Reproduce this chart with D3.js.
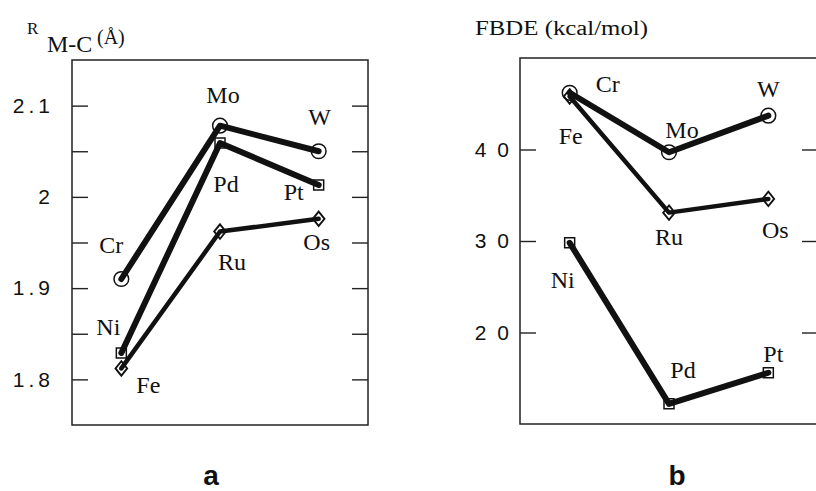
<!DOCTYPE html>
<html>
<head>
<meta charset="utf-8">
<script src="https://cdn.jsdelivr.net/npm/d3@7"></script>
<style>
  html, body { margin:0; padding:0; background:#fff; }
  svg { display:block; }
  .lbl  { font-family:"Liberation Serif","Times New Roman",serif; font-size:24px; fill:#111; }
  .tick text { font-family:"Liberation Sans",Arial,sans-serif; fill:#111; }
  .tick line { stroke:#222; stroke-width:1.4; }
</style>
</head>
<body>
<svg id="chart" width="816" height="491"></svg>
<script>
/* ── data ── */
const periods = ['3d', '4d', '5d'];

const metalsCircle  = ['Cr', 'Mo', 'W'];
const metalsSquare  = ['Ni', 'Pd', 'Pt'];
const metalsDiamond = ['Fe', 'Ru', 'Os'];

// panel a: M–C distance (Å)
const rmcCircle  = [1.910, 2.078, 2.050];
const rmcSquare  = [1.829, 2.059, 2.013];
const rmcDiamond = [1.812, 1.962, 1.976];

// panel b: FBDE (kcal/mol)
const fbdeCircle  = [46.2, 39.7, 43.7];
const fbdeSquare  = [29.8, 12.2, 15.6];
const fbdeDiamond = [45.8, 33.1, 34.6];

const rmcTicks      = [1.8, 1.85, 1.9, 1.95, 2.0, 2.05, 2.1];
const rmcTickLabels = ['1.8', '', '1.9', '', '2', '', '2.1'];
const fbdeTicks      = [20, 30, 40];
const fbdeTickLabels = ['20', '30', '40'];

/* ── label nudges (px from the point) ── */
const offsA = {
  Cr:[-10,-26], Mo:[3,-23],  W:[1,-26],
  Ni:[-13,-18], Pd:[6,49],   Pt:[-25,15],
  Fe:[27,25],   Ru:[12,38],  Os:[-2,31]
};
const offsB = {
  Cr:[38,-1],   Mo:[13,-14], W:[0,-19],
  Fe:[1,48],    Ru:[0,32],   Os:[7,39],
  Ni:[-7,45],   Pd:[14,-26], Pt:[5,-11]
};

const svg = d3.select('#chart');

function panel(cfg) {
  const x = d3.scalePoint().domain(periods).range([cfg.left, cfg.right]).padding(0.5);
  const y = d3.scaleLinear().domain(cfg.domain).range([cfg.bottom, cfg.top]);
  const g = svg.append('g');

  // frame
  g.append('rect')
    .attr('x', cfg.left).attr('y', cfg.top)
    .attr('width', cfg.right - cfg.left).attr('height', cfg.bottom - cfg.top)
    .attr('fill', 'none').attr('stroke', '#222').attr('stroke-width', 1.5);

  // left axis: inward ticks + spaced labels
  const ax = g.append('g').attr('transform', 'translate(' + cfg.left + ',0)')
    .call(d3.axisLeft(y).tickValues(cfg.ticks).tickSize(-cfg.tickLen).tickSizeOuter(0)
      .tickPadding(cfg.pad).tickFormat((d, i) => cfg.tickLabels[i]));
  ax.select('.domain').remove();
  ax.selectAll('text').style('font-size', cfg.tickFont + 'px').style('letter-spacing', cfg.ls + 'px');

  // right axis: inward ticks only
  const ar = g.append('g').attr('transform', 'translate(' + cfg.right + ',0)')
    .call(d3.axisRight(y).tickValues(cfg.ticks).tickSize(-cfg.tickLen).tickSizeOuter(0).tickFormat(''));
  ar.select('.domain').remove();

  const line = d3.line().x((d, i) => x(periods[i])).y(d => y(d));

  cfg.series.forEach(s => {
    g.append('path').datum(s.values)
      .attr('d', line).attr('fill', 'none')
      .attr('stroke', '#111').attr('stroke-width', s.width)
      .attr('stroke-linejoin', 'round').attr('stroke-linecap', 'round');

    const sym = d3.symbol().type(s.shape).size(s.size);
    g.selectAll(null).data(s.values).enter().append('path')
      .attr('d', sym)
      .attr('transform', (d, i) => 'translate(' + x(periods[i]) + ',' + y(d) + ')' + (s.shape === d3.symbolDiamond ? ' scale(1.4,1)' : ''))
      .attr('fill', 'none').attr('stroke', '#111').attr('stroke-width', 1.5);

    g.selectAll(null).data(s.values).enter().append('text')
      .attr('class', 'lbl').attr('text-anchor', 'middle')
      .attr('x', (d, i) => x(periods[i]) + cfg.offs[s.names[i]][0])
      .attr('y', (d, i) => y(d) + cfg.offs[s.names[i]][1])
      .text((d, i) => s.names[i]);
  });

  g.append('text')
    .attr('x', (cfg.left + cfg.right) / 2 + cfg.tagDx).attr('y', 485)
    .attr('text-anchor', 'middle')
    .style('font-family', '"Liberation Sans",Arial,sans-serif')
    .style('font-weight', 'bold').style('font-size', '28px').attr('fill', '#111')
    .text(cfg.tag);
  return g;
}

panel({
  left:72, right:368, top:60, bottom:425, domain:[1.75, 2.15],
  ticks:rmcTicks, tickLabels:rmcTickLabels, tickLen:16, pad:18, tickFont:21, ls:4,
  offs:offsA, tag:'a', tagDx:-9,
  series:[
    { names:metalsCircle,  values:rmcCircle,  shape:d3.symbolCircle,  size:170, width:6 },
    { names:metalsSquare,  values:rmcSquare,  shape:d3.symbolSquare,  size:100, width:6 },
    { names:metalsDiamond, values:rmcDiamond, shape:d3.symbolDiamond, size:60,  width:4.5 }
  ]
});

panel({
  left:520, right:818, top:58, bottom:424, domain:[10, 50],
  ticks:fbdeTicks, tickLabels:fbdeTickLabels, tickLen:16, pad:0, tickFont:21, ls:11,
  offs:offsB, tag:'b', tagDx:8,
  series:[
    { names:metalsCircle,  values:fbdeCircle,  shape:d3.symbolCircle,  size:170, width:6 },
    { names:metalsSquare,  values:fbdeSquare,  shape:d3.symbolSquare,  size:100, width:6 },
    { names:metalsDiamond, values:fbdeDiamond, shape:d3.symbolDiamond, size:60,  width:4.5 }
  ]
});

// axis titles
const rt = svg.append('text').attr('class', 'lbl').attr('x', 27).attr('y', 34);
rt.append('tspan').style('font-size', '17px').text('R');
rt.append('tspan').attr('x', 47).attr('y', 52).style('font-size', '24px').text('M-C');
rt.append('tspan').attr('x', 97).attr('y', 44).style('font-size', '20px').text('(Å)');

svg.append('text').attr('class', 'lbl')
  .attr('x', 475).attr('y', 35).style('font-size', '20px')
  .attr('textLength', 173).attr('lengthAdjust', 'spacingAndGlyphs')
  .text('FBDE (kcal/mol)');
</script>
</body>
</html>
